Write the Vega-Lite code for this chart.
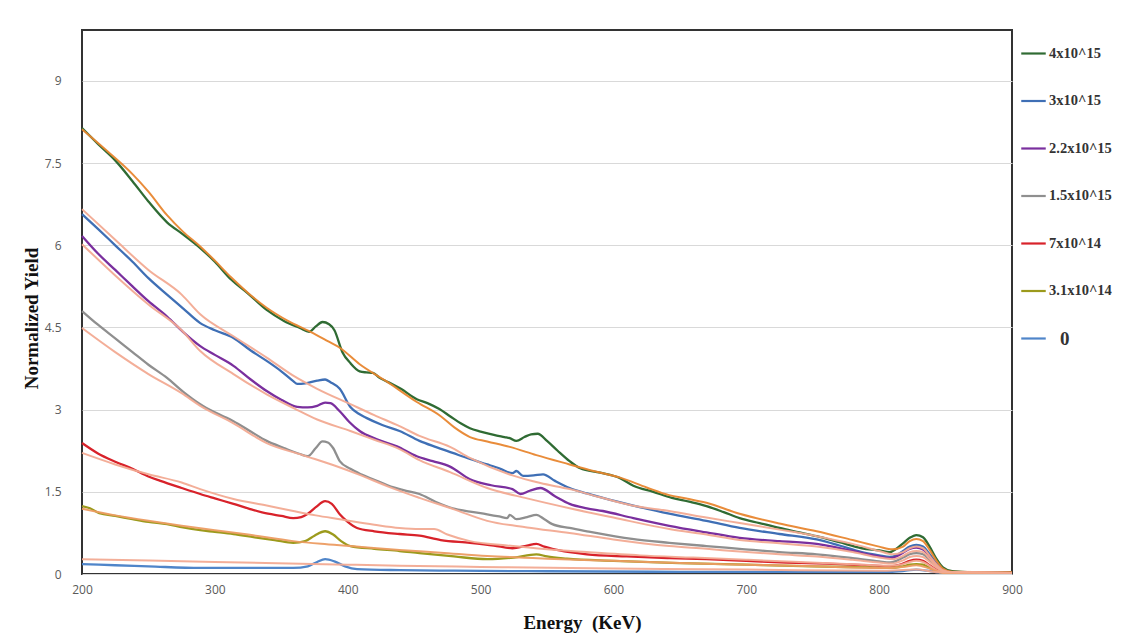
{
  "$schema": "https://vega.github.io/schema/vega-lite/v6.json",
  "width": 930,
  "height": 544,
  "autosize": "none",
  "padding": {"left": 82, "top": 30, "right": 117, "bottom": 65},
  "background": "white",
  "config": {
    "view": {"stroke": "#333333", "strokeWidth": 2},
    "axis": {
      "labelFont": "Open Sans",
      "labelFontSize": 12,
      "labelColor": "#5a5a5a",
      "labelFlush": false,
      "titleFont": "Liberation Serif",
      "titleFontWeight": "bold",
      "titleFontSize": 19,
      "titleColor": "#111111",
      "ticks": false,
      "domain": false
    }
  },
  "datasets": {
    "measured": [
      {"s":"4x10^15","e":200,"y":8.14},{"s":"4x10^15","e":212,"y":7.85},{"s":"4x10^15","e":225,"y":7.55},{"s":"4x10^15","e":238,"y":7.17},{"s":"4x10^15","e":250,"y":6.8},{"s":"4x10^15","e":264,"y":6.42},{"s":"4x10^15","e":276,"y":6.2},{"s":"4x10^15","e":289,"y":5.95},{"s":"4x10^15","e":300,"y":5.7},{"s":"4x10^15","e":312,"y":5.38},{"s":"4x10^15","e":325,"y":5.12},{"s":"4x10^15","e":339,"y":4.82},{"s":"4x10^15","e":352,"y":4.62},{"s":"4x10^15","e":364,"y":4.49},{"s":"4x10^15","e":371,"y":4.42},{"s":"4x10^15","e":376,"y":4.52},{"s":"4x10^15","e":381,"y":4.6},{"s":"4x10^15","e":386,"y":4.56},{"s":"4x10^15","e":390,"y":4.45},{"s":"4x10^15","e":396,"y":4.05},{"s":"4x10^15","e":402,"y":3.85},{"s":"4x10^15","e":409,"y":3.7},{"s":"4x10^15","e":414,"y":3.68},{"s":"4x10^15","e":419,"y":3.67},{"s":"4x10^15","e":424,"y":3.58},{"s":"4x10^15","e":429,"y":3.52},{"s":"4x10^15","e":440,"y":3.38},{"s":"4x10^15","e":452,"y":3.19},{"s":"4x10^15","e":460,"y":3.12},{"s":"4x10^15","e":469,"y":3.01},{"s":"4x10^15","e":477,"y":2.88},{"s":"4x10^15","e":485,"y":2.75},{"s":"4x10^15","e":492,"y":2.66},{"s":"4x10^15","e":500,"y":2.6},{"s":"4x10^15","e":510,"y":2.54},{"s":"4x10^15","e":518,"y":2.5},{"s":"4x10^15","e":522,"y":2.48},{"s":"4x10^15","e":527,"y":2.43},{"s":"4x10^15","e":533,"y":2.5},{"s":"4x10^15","e":538,"y":2.55},{"s":"4x10^15","e":543,"y":2.56},{"s":"4x10^15","e":550,"y":2.43},{"s":"4x10^15","e":558,"y":2.25},{"s":"4x10^15","e":567,"y":2.06},{"s":"4x10^15","e":575,"y":1.93},{"s":"4x10^15","e":590,"y":1.85},{"s":"4x10^15","e":605,"y":1.75},{"s":"4x10^15","e":615,"y":1.61},{"s":"4x10^15","e":630,"y":1.5},{"s":"4x10^15","e":644,"y":1.39},{"s":"4x10^15","e":657,"y":1.32},{"s":"4x10^15","e":670,"y":1.24},{"s":"4x10^15","e":683,"y":1.13},{"s":"4x10^15","e":695,"y":1.02},{"s":"4x10^15","e":710,"y":0.93},{"s":"4x10^15","e":725,"y":0.84},{"s":"4x10^15","e":740,"y":0.76},{"s":"4x10^15","e":753,"y":0.69},{"s":"4x10^15","e":770,"y":0.58},{"s":"4x10^15","e":787,"y":0.47},{"s":"4x10^15","e":800,"y":0.43},{"s":"4x10^15","e":808,"y":0.4},{"s":"4x10^15","e":813,"y":0.46},{"s":"4x10^15","e":818,"y":0.56},{"s":"4x10^15","e":823,"y":0.66},{"s":"4x10^15","e":828,"y":0.71},{"s":"4x10^15","e":833,"y":0.67},{"s":"4x10^15","e":838,"y":0.5},{"s":"4x10^15","e":843,"y":0.28},{"s":"4x10^15","e":848,"y":0.12},{"s":"4x10^15","e":855,"y":0.05},{"s":"4x10^15","e":870,"y":0.03},{"s":"4x10^15","e":900,"y":0.03},

      {"s":"3x10^15","e":200,"y":6.57},{"s":"3x10^15","e":212,"y":6.3},{"s":"3x10^15","e":225,"y":6.0},{"s":"3x10^15","e":238,"y":5.7},{"s":"3x10^15","e":250,"y":5.4},{"s":"3x10^15","e":264,"y":5.1},{"s":"3x10^15","e":276,"y":4.85},{"s":"3x10^15","e":289,"y":4.58},{"s":"3x10^15","e":300,"y":4.45},{"s":"3x10^15","e":314,"y":4.31},{"s":"3x10^15","e":327,"y":4.08},{"s":"3x10^15","e":339,"y":3.89},{"s":"3x10^15","e":350,"y":3.7},{"s":"3x10^15","e":359,"y":3.52},{"s":"3x10^15","e":362,"y":3.47},{"s":"3x10^15","e":368,"y":3.48},{"s":"3x10^15","e":377,"y":3.53},{"s":"3x10^15","e":383,"y":3.55},{"s":"3x10^15","e":387,"y":3.5},{"s":"3x10^15","e":394,"y":3.38},{"s":"3x10^15","e":402,"y":3.05},{"s":"3x10^15","e":408,"y":2.93},{"s":"3x10^15","e":414,"y":2.85},{"s":"3x10^15","e":426,"y":2.72},{"s":"3x10^15","e":439,"y":2.61},{"s":"3x10^15","e":454,"y":2.43},{"s":"3x10^15","e":466,"y":2.32},{"s":"3x10^15","e":479,"y":2.21},{"s":"3x10^15","e":492,"y":2.1},{"s":"3x10^15","e":505,"y":2.0},{"s":"3x10^15","e":515,"y":1.92},{"s":"3x10^15","e":524,"y":1.84},{"s":"3x10^15","e":527,"y":1.88},{"s":"3x10^15","e":532,"y":1.79},{"s":"3x10^15","e":540,"y":1.8},{"s":"3x10^15","e":547,"y":1.82},{"s":"3x10^15","e":556,"y":1.7},{"s":"3x10^15","e":567,"y":1.57},{"s":"3x10^15","e":580,"y":1.47},{"s":"3x10^15","e":592,"y":1.39},{"s":"3x10^15","e":615,"y":1.25},{"s":"3x10^15","e":642,"y":1.1},{"s":"3x10^15","e":670,"y":0.97},{"s":"3x10^15","e":695,"y":0.84},{"s":"3x10^15","e":725,"y":0.73},{"s":"3x10^15","e":753,"y":0.63},{"s":"3x10^15","e":770,"y":0.52},{"s":"3x10^15","e":787,"y":0.4},{"s":"3x10^15","e":800,"y":0.34},{"s":"3x10^15","e":808,"y":0.31},{"s":"3x10^15","e":813,"y":0.34},{"s":"3x10^15","e":818,"y":0.42},{"s":"3x10^15","e":823,"y":0.5},{"s":"3x10^15","e":828,"y":0.53},{"s":"3x10^15","e":833,"y":0.5},{"s":"3x10^15","e":838,"y":0.36},{"s":"3x10^15","e":843,"y":0.2},{"s":"3x10^15","e":848,"y":0.08},{"s":"3x10^15","e":855,"y":0.03},{"s":"3x10^15","e":900,"y":0.02},

      {"s":"2.2x10^15","e":200,"y":6.17},{"s":"2.2x10^15","e":212,"y":5.85},{"s":"2.2x10^15","e":225,"y":5.55},{"s":"2.2x10^15","e":238,"y":5.25},{"s":"2.2x10^15","e":250,"y":4.98},{"s":"2.2x10^15","e":264,"y":4.7},{"s":"2.2x10^15","e":276,"y":4.42},{"s":"2.2x10^15","e":289,"y":4.16},{"s":"2.2x10^15","e":300,"y":4.0},{"s":"2.2x10^15","e":314,"y":3.8},{"s":"2.2x10^15","e":327,"y":3.55},{"s":"2.2x10^15","e":339,"y":3.34},{"s":"2.2x10^15","e":350,"y":3.18},{"s":"2.2x10^15","e":362,"y":3.05},{"s":"2.2x10^15","e":370,"y":3.04},{"s":"2.2x10^15","e":377,"y":3.07},{"s":"2.2x10^15","e":383,"y":3.13},{"s":"2.2x10^15","e":387,"y":3.12},{"s":"2.2x10^15","e":394,"y":2.97},{"s":"2.2x10^15","e":401,"y":2.78},{"s":"2.2x10^15","e":409,"y":2.61},{"s":"2.2x10^15","e":422,"y":2.46},{"s":"2.2x10^15","e":437,"y":2.33},{"s":"2.2x10^15","e":452,"y":2.15},{"s":"2.2x10^15","e":464,"y":2.06},{"s":"2.2x10^15","e":477,"y":1.96},{"s":"2.2x10^15","e":492,"y":1.73},{"s":"2.2x10^15","e":508,"y":1.62},{"s":"2.2x10^15","e":524,"y":1.55},{"s":"2.2x10^15","e":530,"y":1.46},{"s":"2.2x10^15","e":537,"y":1.52},{"s":"2.2x10^15","e":545,"y":1.57},{"s":"2.2x10^15","e":556,"y":1.42},{"s":"2.2x10^15","e":567,"y":1.28},{"s":"2.2x10^15","e":580,"y":1.2},{"s":"2.2x10^15","e":592,"y":1.15},{"s":"2.2x10^15","e":615,"y":1.02},{"s":"2.2x10^15","e":642,"y":0.88},{"s":"2.2x10^15","e":670,"y":0.76},{"s":"2.2x10^15","e":695,"y":0.66},{"s":"2.2x10^15","e":725,"y":0.6},{"s":"2.2x10^15","e":753,"y":0.55},{"s":"2.2x10^15","e":780,"y":0.42},{"s":"2.2x10^15","e":800,"y":0.32},{"s":"2.2x10^15","e":808,"y":0.29},{"s":"2.2x10^15","e":813,"y":0.32},{"s":"2.2x10^15","e":818,"y":0.39},{"s":"2.2x10^15","e":823,"y":0.46},{"s":"2.2x10^15","e":828,"y":0.48},{"s":"2.2x10^15","e":833,"y":0.45},{"s":"2.2x10^15","e":838,"y":0.32},{"s":"2.2x10^15","e":843,"y":0.17},{"s":"2.2x10^15","e":848,"y":0.07},{"s":"2.2x10^15","e":855,"y":0.03},{"s":"2.2x10^15","e":900,"y":0.02},

      {"s":"1.5x10^15","e":200,"y":4.8},{"s":"1.5x10^15","e":212,"y":4.55},{"s":"1.5x10^15","e":225,"y":4.3},{"s":"1.5x10^15","e":238,"y":4.05},{"s":"1.5x10^15","e":250,"y":3.82},{"s":"1.5x10^15","e":264,"y":3.58},{"s":"1.5x10^15","e":276,"y":3.33},{"s":"1.5x10^15","e":289,"y":3.1},{"s":"1.5x10^15","e":300,"y":2.95},{"s":"1.5x10^15","e":314,"y":2.79},{"s":"1.5x10^15","e":327,"y":2.6},{"s":"1.5x10^15","e":339,"y":2.43},{"s":"1.5x10^15","e":352,"y":2.3},{"s":"1.5x10^15","e":364,"y":2.19},{"s":"1.5x10^15","e":370,"y":2.15},{"s":"1.5x10^15","e":376,"y":2.3},{"s":"1.5x10^15","e":381,"y":2.42},{"s":"1.5x10^15","e":385,"y":2.4},{"s":"1.5x10^15","e":389,"y":2.3},{"s":"1.5x10^15","e":394,"y":2.06},{"s":"1.5x10^15","e":402,"y":1.92},{"s":"1.5x10^15","e":410,"y":1.82},{"s":"1.5x10^15","e":420,"y":1.72},{"s":"1.5x10^15","e":430,"y":1.62},{"s":"1.5x10^15","e":442,"y":1.53},{"s":"1.5x10^15","e":454,"y":1.46},{"s":"1.5x10^15","e":466,"y":1.32},{"s":"1.5x10^15","e":479,"y":1.2},{"s":"1.5x10^15","e":492,"y":1.14},{"s":"1.5x10^15","e":505,"y":1.09},{"s":"1.5x10^15","e":514,"y":1.05},{"s":"1.5x10^15","e":520,"y":1.02},{"s":"1.5x10^15","e":522,"y":1.08},{"s":"1.5x10^15","e":527,"y":1.0},{"s":"1.5x10^15","e":535,"y":1.04},{"s":"1.5x10^15","e":542,"y":1.08},{"s":"1.5x10^15","e":548,"y":1.0},{"s":"1.5x10^15","e":554,"y":0.91},{"s":"1.5x10^15","e":567,"y":0.84},{"s":"1.5x10^15","e":580,"y":0.78},{"s":"1.5x10^15","e":614,"y":0.64},{"s":"1.5x10^15","e":642,"y":0.57},{"s":"1.5x10^15","e":670,"y":0.51},{"s":"1.5x10^15","e":695,"y":0.46},{"s":"1.5x10^15","e":725,"y":0.4},{"s":"1.5x10^15","e":753,"y":0.36},{"s":"1.5x10^15","e":780,"y":0.29},{"s":"1.5x10^15","e":800,"y":0.23},{"s":"1.5x10^15","e":808,"y":0.21},{"s":"1.5x10^15","e":813,"y":0.24},{"s":"1.5x10^15","e":818,"y":0.3},{"s":"1.5x10^15","e":823,"y":0.36},{"s":"1.5x10^15","e":828,"y":0.38},{"s":"1.5x10^15","e":833,"y":0.36},{"s":"1.5x10^15","e":838,"y":0.25},{"s":"1.5x10^15","e":843,"y":0.13},{"s":"1.5x10^15","e":848,"y":0.05},{"s":"1.5x10^15","e":855,"y":0.02},{"s":"1.5x10^15","e":900,"y":0.02},

      {"s":"7x10^14","e":200,"y":2.39},{"s":"7x10^14","e":212,"y":2.2},{"s":"7x10^14","e":225,"y":2.05},{"s":"7x10^14","e":238,"y":1.92},{"s":"7x10^14","e":250,"y":1.78},{"s":"7x10^14","e":259,"y":1.7},{"s":"7x10^14","e":275,"y":1.57},{"s":"7x10^14","e":289,"y":1.46},{"s":"7x10^14","e":300,"y":1.38},{"s":"7x10^14","e":314,"y":1.28},{"s":"7x10^14","e":326,"y":1.19},{"s":"7x10^14","e":340,"y":1.1},{"s":"7x10^14","e":350,"y":1.06},{"s":"7x10^14","e":359,"y":1.02},{"s":"7x10^14","e":365,"y":1.04},{"s":"7x10^14","e":370,"y":1.1},{"s":"7x10^14","e":376,"y":1.22},{"s":"7x10^14","e":383,"y":1.33},{"s":"7x10^14","e":388,"y":1.28},{"s":"7x10^14","e":394,"y":1.09},{"s":"7x10^14","e":400,"y":0.95},{"s":"7x10^14","e":407,"y":0.84},{"s":"7x10^14","e":420,"y":0.78},{"s":"7x10^14","e":439,"y":0.73},{"s":"7x10^14","e":454,"y":0.7},{"s":"7x10^14","e":470,"y":0.62},{"s":"7x10^14","e":492,"y":0.57},{"s":"7x10^14","e":510,"y":0.52},{"s":"7x10^14","e":524,"y":0.47},{"s":"7x10^14","e":535,"y":0.52},{"s":"7x10^14","e":542,"y":0.55},{"s":"7x10^14","e":548,"y":0.5},{"s":"7x10^14","e":554,"y":0.46},{"s":"7x10^14","e":567,"y":0.4},{"s":"7x10^14","e":580,"y":0.36},{"s":"7x10^14","e":610,"y":0.32},{"s":"7x10^14","e":642,"y":0.29},{"s":"7x10^14","e":670,"y":0.27},{"s":"7x10^14","e":700,"y":0.24},{"s":"7x10^14","e":730,"y":0.21},{"s":"7x10^14","e":760,"y":0.19},{"s":"7x10^14","e":790,"y":0.16},{"s":"7x10^14","e":808,"y":0.14},{"s":"7x10^14","e":818,"y":0.19},{"s":"7x10^14","e":823,"y":0.24},{"s":"7x10^14","e":828,"y":0.26},{"s":"7x10^14","e":833,"y":0.24},{"s":"7x10^14","e":838,"y":0.16},{"s":"7x10^14","e":843,"y":0.08},{"s":"7x10^14","e":848,"y":0.03},{"s":"7x10^14","e":900,"y":0.02},

      {"s":"3.1x10^14","e":200,"y":1.24},{"s":"3.1x10^14","e":206,"y":1.2},{"s":"3.1x10^14","e":213,"y":1.11},{"s":"3.1x10^14","e":225,"y":1.06},{"s":"3.1x10^14","e":238,"y":1.0},{"s":"3.1x10^14","e":250,"y":0.95},{"s":"3.1x10^14","e":264,"y":0.91},{"s":"3.1x10^14","e":276,"y":0.85},{"s":"3.1x10^14","e":289,"y":0.8},{"s":"3.1x10^14","e":300,"y":0.77},{"s":"3.1x10^14","e":314,"y":0.73},{"s":"3.1x10^14","e":330,"y":0.67},{"s":"3.1x10^14","e":345,"y":0.62},{"s":"3.1x10^14","e":359,"y":0.57},{"s":"3.1x10^14","e":368,"y":0.6},{"s":"3.1x10^14","e":375,"y":0.7},{"s":"3.1x10^14","e":383,"y":0.78},{"s":"3.1x10^14","e":389,"y":0.72},{"s":"3.1x10^14","e":395,"y":0.6},{"s":"3.1x10^14","e":402,"y":0.51},{"s":"3.1x10^14","e":420,"y":0.46},{"s":"3.1x10^14","e":439,"y":0.42},{"s":"3.1x10^14","e":454,"y":0.38},{"s":"3.1x10^14","e":480,"y":0.32},{"s":"3.1x10^14","e":505,"y":0.27},{"s":"3.1x10^14","e":525,"y":0.3},{"s":"3.1x10^14","e":542,"y":0.36},{"s":"3.1x10^14","e":550,"y":0.32},{"s":"3.1x10^14","e":565,"y":0.28},{"s":"3.1x10^14","e":600,"y":0.24},{"s":"3.1x10^14","e":650,"y":0.2},{"s":"3.1x10^14","e":700,"y":0.17},{"s":"3.1x10^14","e":750,"y":0.14},{"s":"3.1x10^14","e":790,"y":0.12},{"s":"3.1x10^14","e":808,"y":0.11},{"s":"3.1x10^14","e":818,"y":0.14},{"s":"3.1x10^14","e":823,"y":0.17},{"s":"3.1x10^14","e":828,"y":0.18},{"s":"3.1x10^14","e":833,"y":0.17},{"s":"3.1x10^14","e":838,"y":0.11},{"s":"3.1x10^14","e":843,"y":0.05},{"s":"3.1x10^14","e":848,"y":0.02},{"s":"3.1x10^14","e":900,"y":0.02},

      {"s":"0","e":200,"y":0.18},{"s":"0","e":225,"y":0.16},{"s":"0","e":250,"y":0.14},{"s":"0","e":289,"y":0.11},{"s":"0","e":330,"y":0.11},{"s":"0","e":359,"y":0.11},{"s":"0","e":370,"y":0.14},{"s":"0","e":377,"y":0.22},{"s":"0","e":383,"y":0.27},{"s":"0","e":390,"y":0.23},{"s":"0","e":398,"y":0.14},{"s":"0","e":407,"y":0.09},{"s":"0","e":439,"y":0.07},{"s":"0","e":480,"y":0.06},{"s":"0","e":550,"y":0.05},{"s":"0","e":650,"y":0.04},{"s":"0","e":750,"y":0.04},{"s":"0","e":808,"y":0.04},{"s":"0","e":820,"y":0.06},{"s":"0","e":828,"y":0.08},{"s":"0","e":836,"y":0.06},{"s":"0","e":845,"y":0.03},{"s":"0","e":900,"y":0.02}
    ],
    "fits": [
      {"f":"bg 4x10^15","e":200,"y":8.12},{"f":"bg 4x10^15","e":220,"y":7.7},{"f":"bg 4x10^15","e":238,"y":7.3},{"f":"bg 4x10^15","e":250,"y":6.98},{"f":"bg 4x10^15","e":264,"y":6.55},{"f":"bg 4x10^15","e":276,"y":6.25},{"f":"bg 4x10^15","e":289,"y":5.98},{"f":"bg 4x10^15","e":300,"y":5.72},{"f":"bg 4x10^15","e":312,"y":5.42},{"f":"bg 4x10^15","e":325,"y":5.13},{"f":"bg 4x10^15","e":339,"y":4.86},{"f":"bg 4x10^15","e":355,"y":4.62},{"f":"bg 4x10^15","e":372,"y":4.42},{"f":"bg 4x10^15","e":385,"y":4.25},{"f":"bg 4x10^15","e":394,"y":4.13},{"f":"bg 4x10^15","e":409,"y":3.83},{"f":"bg 4x10^15","e":429,"y":3.52},{"f":"bg 4x10^15","e":452,"y":3.14},{"f":"bg 4x10^15","e":470,"y":2.88},{"f":"bg 4x10^15","e":480,"y":2.68},{"f":"bg 4x10^15","e":492,"y":2.5},{"f":"bg 4x10^15","e":505,"y":2.42},{"f":"bg 4x10^15","e":522,"y":2.32},{"f":"bg 4x10^15","e":542,"y":2.17},{"f":"bg 4x10^15","e":567,"y":2.0},{"f":"bg 4x10^15","e":585,"y":1.88},{"f":"bg 4x10^15","e":605,"y":1.76},{"f":"bg 4x10^15","e":625,"y":1.58},{"f":"bg 4x10^15","e":642,"y":1.44},{"f":"bg 4x10^15","e":655,"y":1.38},{"f":"bg 4x10^15","e":670,"y":1.3},{"f":"bg 4x10^15","e":695,"y":1.1},{"f":"bg 4x10^15","e":725,"y":0.92},{"f":"bg 4x10^15","e":753,"y":0.78},{"f":"bg 4x10^15","e":780,"y":0.62},{"f":"bg 4x10^15","e":800,"y":0.5},{"f":"bg 4x10^15","e":810,"y":0.45},{"f":"bg 4x10^15","e":818,"y":0.5},{"f":"bg 4x10^15","e":823,"y":0.6},{"f":"bg 4x10^15","e":828,"y":0.64},{"f":"bg 4x10^15","e":833,"y":0.6},{"f":"bg 4x10^15","e":838,"y":0.44},{"f":"bg 4x10^15","e":843,"y":0.25},{"f":"bg 4x10^15","e":848,"y":0.1},{"f":"bg 4x10^15","e":855,"y":0.04},{"f":"bg 4x10^15","e":900,"y":0.03},

      {"f":"bg 3x10^15","e":200,"y":6.66},{"f":"bg 3x10^15","e":225,"y":6.1},{"f":"bg 3x10^15","e":250,"y":5.55},{"f":"bg 3x10^15","e":275,"y":5.1},{"f":"bg 3x10^15","e":289,"y":4.74},{"f":"bg 3x10^15","e":314,"y":4.34},{"f":"bg 3x10^15","e":339,"y":3.95},{"f":"bg 3x10^15","e":359,"y":3.62},{"f":"bg 3x10^15","e":377,"y":3.38},{"f":"bg 3x10^15","e":402,"y":3.1},{"f":"bg 3x10^15","e":420,"y":2.9},{"f":"bg 3x10^15","e":439,"y":2.7},{"f":"bg 3x10^15","e":454,"y":2.52},{"f":"bg 3x10^15","e":477,"y":2.32},{"f":"bg 3x10^15","e":492,"y":2.12},{"f":"bg 3x10^15","e":524,"y":1.8},{"f":"bg 3x10^15","e":545,"y":1.66},{"f":"bg 3x10^15","e":567,"y":1.55},{"f":"bg 3x10^15","e":590,"y":1.4},{"f":"bg 3x10^15","e":614,"y":1.25},{"f":"bg 3x10^15","e":642,"y":1.15},{"f":"bg 3x10^15","e":670,"y":1.03},{"f":"bg 3x10^15","e":695,"y":0.93},{"f":"bg 3x10^15","e":725,"y":0.81},{"f":"bg 3x10^15","e":753,"y":0.69},{"f":"bg 3x10^15","e":780,"y":0.55},{"f":"bg 3x10^15","e":800,"y":0.42},{"f":"bg 3x10^15","e":810,"y":0.36},{"f":"bg 3x10^15","e":818,"y":0.4},{"f":"bg 3x10^15","e":823,"y":0.47},{"f":"bg 3x10^15","e":828,"y":0.5},{"f":"bg 3x10^15","e":833,"y":0.47},{"f":"bg 3x10^15","e":838,"y":0.33},{"f":"bg 3x10^15","e":843,"y":0.18},{"f":"bg 3x10^15","e":848,"y":0.07},{"f":"bg 3x10^15","e":855,"y":0.03},{"f":"bg 3x10^15","e":900,"y":0.02},

      {"f":"bg 2.2x10^15","e":200,"y":6.02},{"f":"bg 2.2x10^15","e":225,"y":5.45},{"f":"bg 2.2x10^15","e":250,"y":4.92},{"f":"bg 2.2x10^15","e":275,"y":4.45},{"f":"bg 2.2x10^15","e":289,"y":4.07},{"f":"bg 2.2x10^15","e":314,"y":3.65},{"f":"bg 2.2x10^15","e":339,"y":3.28},{"f":"bg 2.2x10^15","e":360,"y":3.02},{"f":"bg 2.2x10^15","e":377,"y":2.82},{"f":"bg 2.2x10^15","e":402,"y":2.61},{"f":"bg 2.2x10^15","e":420,"y":2.45},{"f":"bg 2.2x10^15","e":439,"y":2.28},{"f":"bg 2.2x10^15","e":454,"y":2.08},{"f":"bg 2.2x10^15","e":477,"y":1.86},{"f":"bg 2.2x10^15","e":505,"y":1.57},{"f":"bg 2.2x10^15","e":535,"y":1.38},{"f":"bg 2.2x10^15","e":567,"y":1.2},{"f":"bg 2.2x10^15","e":600,"y":1.03},{"f":"bg 2.2x10^15","e":642,"y":0.82},{"f":"bg 2.2x10^15","e":670,"y":0.72},{"f":"bg 2.2x10^15","e":695,"y":0.62},{"f":"bg 2.2x10^15","e":725,"y":0.56},{"f":"bg 2.2x10^15","e":753,"y":0.5},{"f":"bg 2.2x10^15","e":780,"y":0.4},{"f":"bg 2.2x10^15","e":800,"y":0.3},{"f":"bg 2.2x10^15","e":810,"y":0.27},{"f":"bg 2.2x10^15","e":818,"y":0.33},{"f":"bg 2.2x10^15","e":823,"y":0.4},{"f":"bg 2.2x10^15","e":828,"y":0.42},{"f":"bg 2.2x10^15","e":833,"y":0.4},{"f":"bg 2.2x10^15","e":838,"y":0.28},{"f":"bg 2.2x10^15","e":843,"y":0.15},{"f":"bg 2.2x10^15","e":848,"y":0.06},{"f":"bg 2.2x10^15","e":855,"y":0.03},{"f":"bg 2.2x10^15","e":900,"y":0.02},

      {"f":"bg 1.5x10^15","e":200,"y":4.49},{"f":"bg 1.5x10^15","e":225,"y":4.05},{"f":"bg 1.5x10^15","e":250,"y":3.65},{"f":"bg 1.5x10^15","e":275,"y":3.3},{"f":"bg 1.5x10^15","e":289,"y":3.07},{"f":"bg 1.5x10^15","e":314,"y":2.75},{"f":"bg 1.5x10^15","e":339,"y":2.39},{"f":"bg 1.5x10^15","e":366,"y":2.17},{"f":"bg 1.5x10^15","e":390,"y":1.98},{"f":"bg 1.5x10^15","e":410,"y":1.8},{"f":"bg 1.5x10^15","e":430,"y":1.6},{"f":"bg 1.5x10^15","e":454,"y":1.39},{"f":"bg 1.5x10^15","e":480,"y":1.18},{"f":"bg 1.5x10^15","e":505,"y":0.97},{"f":"bg 1.5x10^15","e":535,"y":0.85},{"f":"bg 1.5x10^15","e":567,"y":0.75},{"f":"bg 1.5x10^15","e":600,"y":0.63},{"f":"bg 1.5x10^15","e":642,"y":0.51},{"f":"bg 1.5x10^15","e":670,"y":0.46},{"f":"bg 1.5x10^15","e":695,"y":0.41},{"f":"bg 1.5x10^15","e":725,"y":0.36},{"f":"bg 1.5x10^15","e":753,"y":0.32},{"f":"bg 1.5x10^15","e":780,"y":0.26},{"f":"bg 1.5x10^15","e":800,"y":0.21},{"f":"bg 1.5x10^15","e":810,"y":0.19},{"f":"bg 1.5x10^15","e":818,"y":0.25},{"f":"bg 1.5x10^15","e":823,"y":0.31},{"f":"bg 1.5x10^15","e":828,"y":0.33},{"f":"bg 1.5x10^15","e":833,"y":0.31},{"f":"bg 1.5x10^15","e":838,"y":0.22},{"f":"bg 1.5x10^15","e":843,"y":0.12},{"f":"bg 1.5x10^15","e":848,"y":0.05},{"f":"bg 1.5x10^15","e":855,"y":0.02},{"f":"bg 1.5x10^15","e":900,"y":0.02},

      {"f":"bg 7x10^14","e":200,"y":2.21},{"f":"bg 7x10^14","e":225,"y":2.0},{"f":"bg 7x10^14","e":250,"y":1.82},{"f":"bg 7x10^14","e":275,"y":1.67},{"f":"bg 7x10^14","e":289,"y":1.55},{"f":"bg 7x10^14","e":314,"y":1.37},{"f":"bg 7x10^14","e":339,"y":1.25},{"f":"bg 7x10^14","e":359,"y":1.15},{"f":"bg 7x10^14","e":376,"y":1.07},{"f":"bg 7x10^14","e":394,"y":1.0},{"f":"bg 7x10^14","e":420,"y":0.9},{"f":"bg 7x10^14","e":439,"y":0.84},{"f":"bg 7x10^14","e":454,"y":0.82},{"f":"bg 7x10^14","e":465,"y":0.82},{"f":"bg 7x10^14","e":475,"y":0.72},{"f":"bg 7x10^14","e":492,"y":0.6},{"f":"bg 7x10^14","e":520,"y":0.52},{"f":"bg 7x10^14","e":550,"y":0.45},{"f":"bg 7x10^14","e":580,"y":0.4},{"f":"bg 7x10^14","e":620,"y":0.34},{"f":"bg 7x10^14","e":660,"y":0.3},{"f":"bg 7x10^14","e":700,"y":0.26},{"f":"bg 7x10^14","e":740,"y":0.22},{"f":"bg 7x10^14","e":780,"y":0.18},{"f":"bg 7x10^14","e":808,"y":0.15},{"f":"bg 7x10^14","e":818,"y":0.18},{"f":"bg 7x10^14","e":823,"y":0.22},{"f":"bg 7x10^14","e":828,"y":0.24},{"f":"bg 7x10^14","e":833,"y":0.22},{"f":"bg 7x10^14","e":838,"y":0.15},{"f":"bg 7x10^14","e":843,"y":0.07},{"f":"bg 7x10^14","e":848,"y":0.03},{"f":"bg 7x10^14","e":900,"y":0.02},

      {"f":"bg 3.1x10^14","e":200,"y":1.19},{"f":"bg 3.1x10^14","e":225,"y":1.07},{"f":"bg 3.1x10^14","e":250,"y":0.97},{"f":"bg 3.1x10^14","e":275,"y":0.88},{"f":"bg 3.1x10^14","e":300,"y":0.8},{"f":"bg 3.1x10^14","e":325,"y":0.72},{"f":"bg 3.1x10^14","e":359,"y":0.6},{"f":"bg 3.1x10^14","e":380,"y":0.55},{"f":"bg 3.1x10^14","e":402,"y":0.51},{"f":"bg 3.1x10^14","e":439,"y":0.44},{"f":"bg 3.1x10^14","e":470,"y":0.39},{"f":"bg 3.1x10^14","e":505,"y":0.33},{"f":"bg 3.1x10^14","e":550,"y":0.28},{"f":"bg 3.1x10^14","e":600,"y":0.24},{"f":"bg 3.1x10^14","e":650,"y":0.2},{"f":"bg 3.1x10^14","e":700,"y":0.17},{"f":"bg 3.1x10^14","e":750,"y":0.14},{"f":"bg 3.1x10^14","e":808,"y":0.11},{"f":"bg 3.1x10^14","e":818,"y":0.13},{"f":"bg 3.1x10^14","e":828,"y":0.16},{"f":"bg 3.1x10^14","e":838,"y":0.1},{"f":"bg 3.1x10^14","e":848,"y":0.02},{"f":"bg 3.1x10^14","e":900,"y":0.02},

      {"f":"bg 0","e":200,"y":0.27},{"f":"bg 0","e":300,"y":0.22},{"f":"bg 0","e":400,"y":0.17},{"f":"bg 0","e":439,"y":0.15},{"f":"bg 0","e":500,"y":0.13},{"f":"bg 0","e":600,"y":0.1},{"f":"bg 0","e":700,"y":0.08},{"f":"bg 0","e":800,"y":0.06},{"f":"bg 0","e":828,"y":0.08},{"f":"bg 0","e":845,"y":0.03},{"f":"bg 0","e":900,"y":0.02}
    ]
  },
  "encoding": {
    "x": {
      "field": "e", "type": "quantitative",
      "scale": {"domain": [200, 900], "nice": false},
      "axis": {
        "title": "Energy\u00a0\u00a0(KeV)",
        "values": [200, 300, 400, 500, 600, 700, 800, 900],
        "format": "d",
        "grid": false,
        "labelPadding": 10,
        "titleX": 500,
        "titleY": 54,
        "titleAlign": "center",
        "titleBaseline": "alphabetic"
      }
    },
    "y": {
      "field": "y", "type": "quantitative",
      "scale": {"domain": [0, 9.93], "nice": false, "zero": true},
      "axis": {
        "title": "Normalized Yield",
        "values": [0, 1.5, 3, 4.5, 6, 7.5, 9],
        "format": ".1~f",
        "grid": true,
        "gridColor": "#d9d9d9",
        "gridWidth": 1.2,
        "labelPadding": 21,
        "titleX": -45,
        "titleY": 288,
        "titleAngle": -90,
        "titleAlign": "center",
        "titleBaseline": "alphabetic"
      }
    }
  },
  "layer": [
    {
      "data": {"name": "measured"},
      "mark": {"type": "line", "strokeWidth": 2.3, "interpolate": "monotone"},
      "encoding": {
        "color": {
          "field": "s", "type": "nominal",
          "scale": {
            "domain": ["4x10^15", "3x10^15", "2.2x10^15", "1.5x10^15", "7x10^14", "3.1x10^14", "0"],
            "range": ["#2f6b33", "#3f6fb5", "#7a2f9e", "#8f8f8f", "#d8222a", "#9c9a1c", "#4f85c9"]
          },
          "legend": {
            "title": null,
            "orient": "none",
            "legendX": 938,
            "legendY": 10,
            "symbolType": "stroke",
            "symbolSize": 600,
            "symbolStrokeWidth": 2.2,
            "labelFont": "Liberation Serif",
            "labelFontWeight": "bold",
            "labelFontSize": 14.5,
            "labelColor": "#333333",
            "labelOffset": 2,
            "rowPadding": 27.5,
            "padding": 0,
            "encode": {
              "labels": {
                "update": {
                  "fontSize": {"signal": "datum.value == '0' ? 19 : 14.5"},
                  "dx": {"signal": "datum.value == '0' ? 11 : 0"}
                }
              }
            }
          }
        }
      }
    },
    {
      "data": {"name": "fits"},
      "mark": {"type": "line", "strokeWidth": 2, "interpolate": "monotone", "opacity": 0.95},
      "encoding": {
        "detail": {"field": "f", "type": "nominal"},
        "color": {
          "field": "f", "type": "nominal",
          "scale": {
            "domain": ["bg 4x10^15", "bg 3x10^15", "bg 2.2x10^15", "bg 1.5x10^15", "bg 7x10^14", "bg 3.1x10^14", "bg 0"],
            "range": ["#e8862f", "#f2aa92", "#f2aa92", "#f2aa92", "#f2aa92", "#ec9c62", "#f2aa92"]
          },
          "legend": null
        }
      }
    }
  ],
  "resolve": {"scale": {"color": "independent"}, "legend": {"color": "independent"}}
}
